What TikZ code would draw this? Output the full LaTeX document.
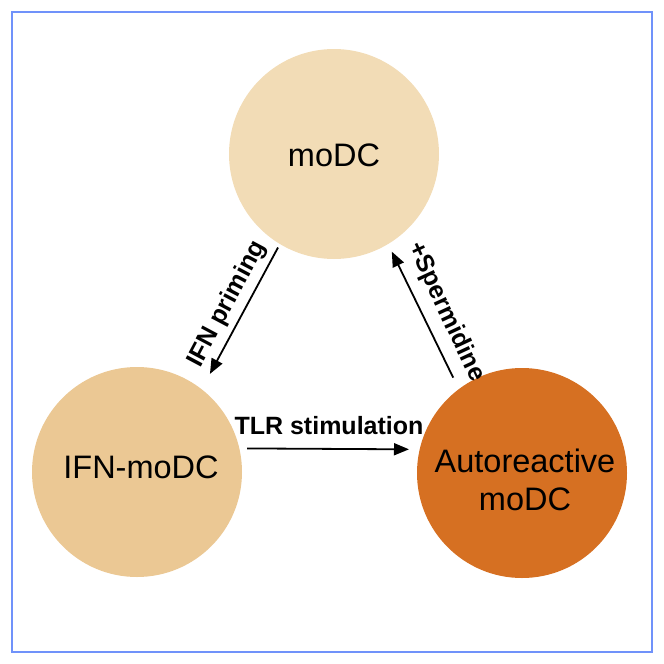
\documentclass[tikz,border=0pt]{standalone}
\usepackage{fontspec}
\setmainfont{Liberation Sans}
\usetikzlibrary{arrows.meta}
\definecolor{framecol}{RGB}{112,146,250}
\definecolor{modccol}{RGB}{242,220,182}
\definecolor{ifncol}{RGB}{235,200,148}
\definecolor{autocol}{RGB}{214,112,34}
\tikzset{
  cell/.style={circle, minimum size=210pt, inner sep=0pt, outer sep=0pt, draw=none},
  celltext/.style={font=\fontsize{32.5}{37.5}\selectfont, align=center, inner sep=0pt, text=black},
  lbl/.style={font=\fontsize{25}{29}\selectfont\bfseries, inner sep=0pt},
  arr/.style={-{Triangle[length=15pt,width=12pt]}, line width=1.8pt, black}
}
\begin{document}
\begin{tikzpicture}[x=1pt,y=-1pt]
\useasboundingbox (0,0) rectangle (664,664);
\node[draw=framecol, line width=2pt, minimum width=640pt, minimum height=640pt, inner sep=0pt] (frame) at (332,332) {};
\node[cell, fill=modccol] (modc) at (334,154) {};
\node[cell, fill=ifncol] (ifn) at (137,472) {};
\node[cell, fill=autocol] (auto) at (522,473) {};
\node[celltext] (modct) at (334,155) {moDC};
\node[celltext] (ifnt) at (141,467) {IFN-moDC};
\node[celltext] (autot) at (525,480) {Autoreactive\\moDC};
\draw[arr, shorten <=4pt, shorten >=17.5pt] (modc.239.7) -- (ifn.52.3);
\draw[arr, shorten <=12.8pt, shorten >=8.5pt] (auto.127.1) -- (modc.301.3);
\draw[arr, shorten <=7.7pt, shorten >=10.7pt] (ifn.13) -- (auto.167);
\node[lbl, anchor=base] (tlr) at (329,434) {TLR stimulation};
\node[lbl, rotate=62] (prim) at (227.5,304) {IFN priming};
\node[lbl, rotate=-65] (sperm) at (446,312) {+Spermidine};
\end{tikzpicture}
\end{document}
